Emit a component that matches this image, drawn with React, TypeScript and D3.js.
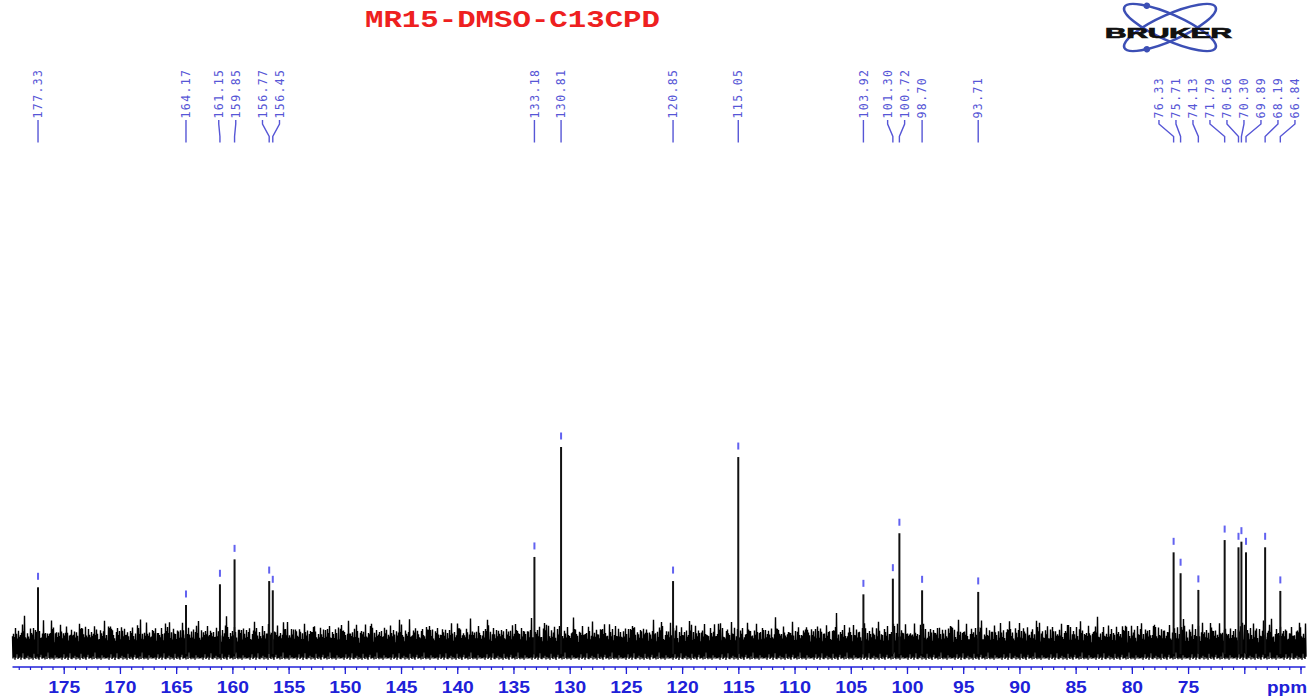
import React from "react";
import * as d3 from "d3";

const W = 1312;
const H = 698;

// 13C peak list (ppm) and relative heights (tallest = 100)
const peakShifts = [
  177.33, 164.17, 161.15, 159.85, 156.77, 156.45, 133.18, 130.81, 120.85, 115.05,
  103.92, 101.3, 100.72, 98.7, 93.71, 76.33, 75.71, 74.13, 71.79, 70.56, 70.3,
  69.89, 68.19, 66.84,
];
const peakHeights = [
  30.2, 21.4, 31.7, 44.1, 33.3, 28.7, 45.3, 100, 33.3, 95.0,
  26.7, 34.5, 57.1, 28.7, 27.9, 47.6, 37.2, 28.9, 53.7, 50.1, 52.9,
  47.6, 50.1, 28.4,
];

// axis ticks
const majorTicks = [175, 170, 165, 160, 155, 150, 145, 140, 135, 130, 125, 120, 115, 110, 105, 100, 95, 90, 85, 80, 75, 70, 65];
const tickLabels = ["175", "170", "165", "160", "155", "150", "145", "140", "135", "130", "125", "120", "115", "110", "105", "100", "95", "90", "85", "80", "75"];

// baseline noise envelope (upper / lower excursions, same units as peak heights)
const noiseTopA = [
  5.2, 7.1, 4.3, 8.6, 6.0, 3.8, 9.4, 5.5, 6.8, 4.9, 7.7, 5.1, 11.2, 6.3, 4.4, 7.9,
  5.8, 3.6, 8.2, 6.6, 5.0, 10.1, 4.7, 6.9, 7.4, 5.3, 3.9, 8.8, 6.1, 4.6, 7.2, 12.6,
  5.7, 6.4, 4.2, 8.0, 5.9, 7.5, 4.8, 9.7, 6.2, 5.4, 3.7, 7.0, 8.4, 5.6, 6.7, 4.5,
  10.8, 6.5, 5.1, 7.8, 4.1, 6.9, 8.9, 5.3, 4.0, 7.3, 6.0, 9.1, 5.0,
];
const noiseTopB = [
  0, 1.2, -0.8, 0.4, -1.5, 2.1, 0.3, -0.6, 1.7, -1.1, 0.9, -0.3, 3.4, -1.4, 0.6,
  -0.9, 1.5, 0.2, -1.2, 2.6, -0.5, 0.8, -1.7, 0.1, 1.1, -0.7, 4.2, -1.0, 0.5,
];
const noiseBottom = [
  -5.2, -4.6, -5.8, -4.9, -3.1, -5.5, -5.0, -4.4, -5.9, -4.8, -2.6, -5.3, -5.6,
  -4.7, -5.1, -3.8, -5.7, -4.5, -5.4, -4.9, -5.8, -2.9, -5.0, -5.5, -4.3, -5.2,
  -5.9, -4.6, -3.4, -5.3, -5.1, -4.8, -5.7, -4.2, -5.5, -2.2, -5.0, -5.6, -4.7,
  -5.3, -4.9, -5.8, -3.6, -5.2, -4.5, -5.4, -5.0,
];

const x = d3.scaleLinear().domain([179.6, 64.6]).range([12.5, 1305.5]);
const y = d3.scaleLinear().domain([0, 100]).range([648, 447]);

const AXIS_Y = 667;
const LABEL_BASE = 118.5;
const LABEL_GAP = 17;
const BLUE = "#2020d8";
const PEAK_BLUE = "#5656d6";
const DIGIT_W = 10.7;

// spread overlapping peak labels into evenly spaced groups
function spreadLabels(xs: number[], gap: number): number[] {
  type G = { i0: number; i1: number; start: number };
  const groups: G[] = [];
  xs.forEach((px, i) => {
    groups.push({ i0: i, i1: i, start: px });
    while (groups.length > 1) {
      const g = groups[groups.length - 1];
      const p = groups[groups.length - 2];
      const pEnd = p.start + (p.i1 - p.i0) * gap;
      if (g.start < pEnd + gap) {
        const i0 = p.i0;
        const i1 = g.i1;
        const mid = (xs[i0] + xs[i1]) / 2;
        groups.splice(groups.length - 2, 2, { i0, i1, start: mid - ((i1 - i0) * gap) / 2 });
      } else break;
    }
  });
  const out: number[] = new Array(xs.length);
  groups.forEach((g) => {
    for (let i = g.i0; i <= g.i1; i++) out[i] = g.start + (i - g.i0) * gap;
  });
  return out;
}

function noisePath(): string {
  const [r0, r1] = x.range();
  const pts: [number, number][] = [];
  const n = Math.floor(r1 - r0);
  for (let i = 0; i <= n; i++) {
    const top = noiseTopA[i % noiseTopA.length] + noiseTopB[(i * 7) % noiseTopB.length] + 0.6;
    const bot = noiseBottom[i % noiseBottom.length];
    const ppmA = x.invert(r0 + i);
    const ppmB = x.invert(r0 + i + 0.5);
    pts.push([x(ppmA), y(top)]);
    pts.push([x(ppmB), y(bot)]);
  }
  return d3.line()(pts) || "";
}

export default function App() {
  const order = d3.range(peakShifts.length).sort((a, b) => x(peakShifts[a]) - x(peakShifts[b]));
  const peakXs = order.map((i) => x(peakShifts[i]));
  const labelXs = spreadLabels(peakXs, LABEL_GAP);
  const minorTicks = d3.range(65, 180);

  // Bruker atom logo geometry
  const lx = 1170;
  const ly = 27.5;

  return (
    <svg
      width={W}
      height={H}
      style={{ position: "absolute", left: 0, top: 0, display: "block", background: "#fff" }}
    >
      <rect width={W} height={H} fill="#fff" />

      {/* title */}
      <text
        x={365}
        y={27}
        fontFamily="Liberation Mono, monospace"
        fontWeight="bold"
        fontSize={23}
        fill="#ee2020"
        textLength={295}
        lengthAdjust="spacingAndGlyphs"
      >
        MR15-DMSO-C13CPD
      </text>

      {/* logo */}
      <g>
        <g transform={`translate(${lx},${ly}) rotate(24)`}>
          <ellipse rx={50} ry={13} fill="none" stroke="#3c4fb5" strokeWidth={2.5} />
          <circle cx={-30} cy={-10.4} r={3.2} fill="#3c4fb5" />
        </g>
        <g transform={`translate(${lx},${ly}) rotate(-24)`}>
          <ellipse rx={50} ry={13} fill="none" stroke="#3c4fb5" strokeWidth={2.5} />
          <circle cx={-30} cy={10.4} r={3.2} fill="#3c4fb5" />
        </g>
        <text
          x={1105}
          y={37.5}
          fontFamily="Liberation Sans, Arial, sans-serif"
          fontWeight="bold"
          fontSize={14}
          fill="#111"
          stroke="#111"
          strokeWidth={0.7}
          textLength={127}
          lengthAdjust="spacingAndGlyphs"
        >
          BRUKER
        </text>
      </g>

      {/* peak labels with connectors */}
      <g>
        {order.map((idx, k) => {
          const lxk = labelXs[k];
          const pxk = peakXs[k];
          return (
            <g key={`lab-${idx}`}>
              <text
                transform={`translate(${lxk},${LABEL_BASE}) rotate(-90)`}
                dy="0.36em"
                fontFamily="DejaVu Sans Mono, monospace"
                fontSize={11.5}
                letterSpacing={1.4}
                fill={PEAK_BLUE}
              >
                {peakShifts[idx].toFixed(2)}
              </text>
              <path
                d={`M${lxk},120 L${lxk},124 L${pxk},136.5 L${pxk},142.5`}
                fill="none"
                stroke={PEAK_BLUE}
                strokeWidth={1.4}
              />
            </g>
          );
        })}
      </g>

      {/* baseline noise */}
      <path d={noisePath()} fill="none" stroke="#000" strokeWidth={1.4} />

      {/* peaks */}
      <g>
        {peakShifts.map((s, i) => (
          <g key={`pk-${i}`}>
            <line x1={x(s)} x2={x(s)} y1={y(0) + 6} y2={y(peakHeights[i])} stroke="#111" strokeWidth={2} />
            <rect x={x(s) - 1} y={y(peakHeights[i]) - 14.5} width={2} height={7} fill="#6262f0" />
          </g>
        ))}
      </g>

      {/* ppm axis */}
      <g>
        <line x1={x.range()[0]} x2={x.range()[1]} y1={AXIS_Y} y2={AXIS_Y} stroke={BLUE} strokeWidth={1.5} />
        {minorTicks.map((t) => (
          <line key={`mt-${t}`} x1={x(t)} x2={x(t)} y1={AXIS_Y} y2={AXIS_Y + 3} stroke={BLUE} strokeWidth={1.2} />
        ))}
        {majorTicks.map((t) => (
          <line key={`Mt-${t}`} x1={x(t)} x2={x(t)} y1={AXIS_Y} y2={AXIS_Y + 7} stroke={BLUE} strokeWidth={1.3} />
        ))}
        {tickLabels.map((lab) => {
          const len = lab.length * DIGIT_W;
          return (
            <text
              key={`tl-${lab}`}
              x={x(+lab) - len / 2}
              y={693}
              fontFamily="Liberation Sans, Arial, sans-serif"
              fontWeight="bold"
              fontSize={16}
              fill={BLUE}
              textLength={len}
              lengthAdjust="spacingAndGlyphs"
            >
              {lab}
            </text>
          );
        })}
        <text
          x={1267}
          y={693}
          fontFamily="Liberation Sans, Arial, sans-serif"
          fontWeight="bold"
          fontSize={16}
          fill={BLUE}
          textLength={40}
          lengthAdjust="spacingAndGlyphs"
        >
          ppm
        </text>
      </g>
    </svg>
  );
}
